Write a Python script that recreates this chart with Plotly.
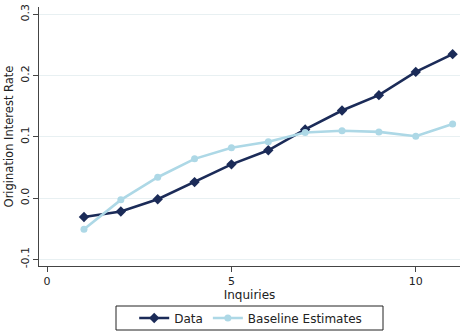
import plotly.graph_objects as go

inquiries = [1, 2, 3, 4, 5, 6, 7, 8, 9, 10, 11]
data_vals = [-0.031, -0.022, -0.002, 0.026, 0.055, 0.078, 0.112, 0.143, 0.168, 0.206, 0.235]
baseline_vals = [-0.051, -0.003, 0.034, 0.064, 0.082, 0.092, 0.107, 0.110, 0.108, 0.101, 0.121]
y_ticks = [-0.1, 0.0, 0.1, 0.2, 0.3]
y_ticktext = ["-0.1", "0.0", "0.1", "0.2", "0.3"]
x_ticks = [0, 5, 10]

navy = "#1b2b58"
light = "#add8e6"

fig = go.Figure()
fig.add_trace(go.Scatter(x=inquiries, y=data_vals, mode="lines+markers", name="Data",
                         line=dict(color=navy, width=2.6),
                         marker=dict(symbol="diamond", size=8, color=navy)))
fig.add_trace(go.Scatter(x=inquiries, y=baseline_vals, mode="lines+markers", name="Baseline Estimates",
                         line=dict(color=light, width=2.6),
                         marker=dict(symbol="circle", size=7, color=light)))

# legend frame (pixel box 116..383 x 306..330, plot area 39..460 x 7..266)
fig.add_shape(type="rect", xref="paper", yref="paper",
              x0=(116 - 39) / 421, x1=(383 - 39) / 421,
              y0=(266 - 330) / 259, y1=(266 - 306) / 259,
              line=dict(color="#222", width=1), fillcolor="rgba(0,0,0,0)", layer="above")

fig.update_layout(
    width=460, height=331,
    margin=dict(l=39, r=0, t=7, b=65, autoexpand=False),
    paper_bgcolor="white", plot_bgcolor="white",
    font=dict(family="DejaVu Sans", size=11, color="#222"),
    showlegend=True,
    legend=dict(orientation="h", x=0.545, xref="container", xanchor="center",
                y=1 - 318 / 331, yref="container", yanchor="middle",
                borderwidth=0, bgcolor="rgba(0,0,0,0)", font=dict(size=12),
                tracegroupgap=0),
    xaxis=dict(range=[-0.22, 11.2], tickvals=x_ticks, ticks="outside", ticklen=5,
               showline=True, linecolor="#444", linewidth=1, showgrid=False, zeroline=False,
               automargin=False,
               title=dict(text="Inquiries", standoff=2, font=dict(size=12))),
    yaxis=dict(range=[-0.111, 0.312], tickvals=y_ticks, ticktext=y_ticktext, tickangle=-90,
               ticks="outside", ticklen=5, showline=True, linecolor="#444", linewidth=1,
               showgrid=True, gridcolor="#e8f0f2", gridwidth=1, zeroline=False,
               automargin=False,
               title=dict(text="Origination Interest Rate", standoff=2, font=dict(size=11.5))),
)

fig.write_html("out.html")
